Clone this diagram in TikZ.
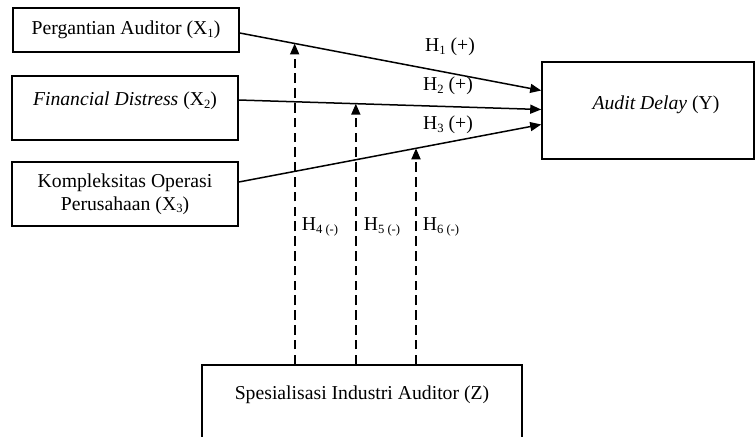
\documentclass[tikz,border=0pt]{standalone}
\usepackage{fontspec}
\setmainfont{Liberation Serif}
\usetikzlibrary{arrows.meta}
\newcommand\sbs[1]{\raisebox{-0.3ex}{\fontsize{6.3}{6.3}\selectfont #1}}
\tikzset{
  box/.style={draw, line width=0.8pt, rectangle, inner sep=0pt, align=center},
  lbl/.style={inner sep=0pt, align=center},
  conn/.style={line width=0.75pt, -{Triangle[length=5.5pt,width=4.5pt]}},
  modconn/.style={line width=0.9pt, dash pattern=on 4.8pt off 2.6pt, -{Triangle[length=5.5pt,width=4.5pt]}},
}
\begin{document}
\begin{tikzpicture}[x=0.5pt,y=-0.5pt,font=\fontsize{9.85}{11.5}\selectfont]
\useasboundingbox (0,0) rectangle (755,436);
% boxes
\node[box, minimum width=113pt, minimum height=22pt] (x1) at (126,30) {Pergantian Auditor (X\sbs{1})};
\node[box, minimum width=113pt, minimum height=32pt] (x2) at (125,108) {};
\node[lbl] (x2t) at (125,101) {\textit{Financial Distress} (X\sbs{2})};
\node[box, minimum width=113pt, minimum height=32pt] (x3) at (125,194) {Kompleksitas Operasi\\Perusahaan (X\sbs{3})};
\node[box, minimum width=106pt, minimum height=48.5pt] (y) at (648,110.5) {};
\node[lbl] (yt) at (656,105) {\textit{Audit Delay} (Y)};
\node[box, minimum width=160pt, minimum height=60pt] (z) at (362,425) {};
\node[lbl] (zt) at (362,395) {Spesialisasi Industri Auditor (Z)};
% endpoints
\coordinate (s1) at ([yshift=-1.5pt]x1.east);
\coordinate (s2) at ([yshift=4pt]x2.east);
\coordinate (s3) at ([yshift=6pt]x3.east);
\coordinate (e1) at ([yshift=10pt]y.west);
\coordinate (e2) at ([yshift=0.5pt]y.west);
\coordinate (e3) at ([yshift=-7pt]y.west);
\draw[conn] (s1) -- (e1) coordinate[pos=0.182] (m1);
\draw[conn] (s2) -- (e2) coordinate[pos=0.387] (m2);
\draw[conn] (s3) -- (e3) coordinate[pos=0.586] (m3);
\draw[modconn] (m1 |- z.north) -- (m1);
\draw[modconn] (m2 |- z.north) -- (m2);
\draw[modconn] (m3 |- z.north) -- (m3);
% labels
\node[lbl] (h1) at (450,47) {H\sbs{1} (+)};
\node[lbl] (h2) at (448,86) {H\sbs{2} (+)};
\node[lbl] (h3) at (448,125) {H\sbs{3} (+)};
\node[lbl] (h4) at (320,227) {H\sbs{4 (-)}};
\node[lbl] (h5) at (382,227) {H\sbs{5 (-)}};
\node[lbl] (h6) at (441,227) {H\sbs{6 (-)}};
\end{tikzpicture}
\end{document}
